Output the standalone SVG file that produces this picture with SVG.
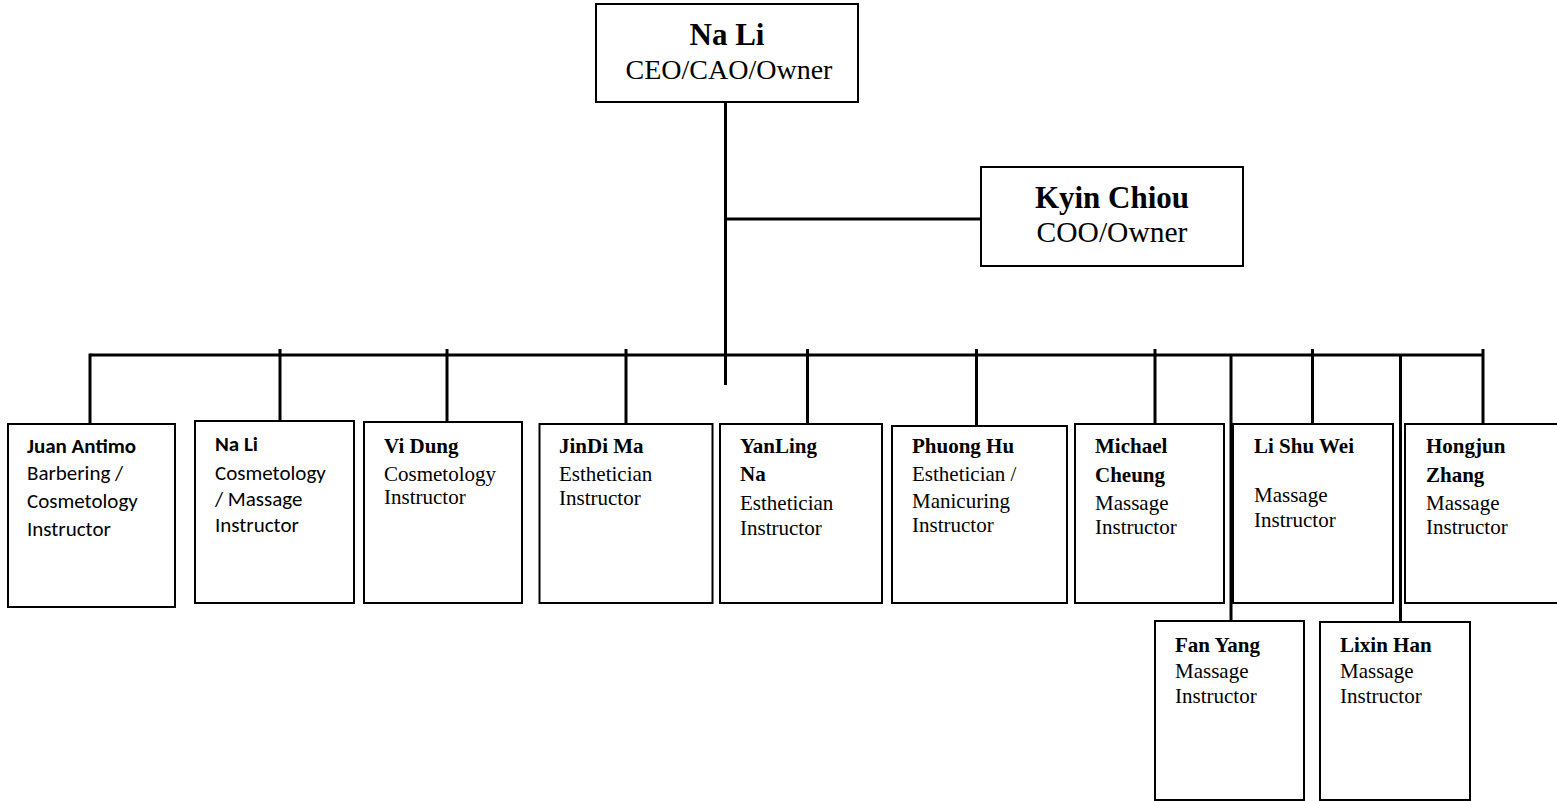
<svg xmlns="http://www.w3.org/2000/svg" width="1557" height="801" viewBox="0 0 1557 801">
<style>
.box{fill:#fff;stroke:#000;stroke-width:2}
.ln{stroke:#000;stroke-width:3;fill:none}
.t{font-family:"Liberation Serif","Times New Roman",serif;font-size:21px;fill:#000}
.tb{font-family:"Liberation Serif","Times New Roman",serif;font-size:21px;font-weight:bold;fill:#000}
.c{font-family:Carlito,Lato,"Liberation Sans",sans-serif;font-size:21px;fill:#000}
.cb{font-family:Carlito,Lato,"Liberation Sans",sans-serif;font-size:21px;font-weight:bold;fill:#000}
.big{font-family:"Liberation Serif","Times New Roman",serif;font-size:31px;font-weight:bold;fill:#000;text-anchor:middle}
.sub{font-family:"Liberation Serif","Times New Roman",serif;font-size:28px;fill:#000;text-anchor:middle}
</style>
<rect width="1557" height="801" fill="#fff"/>
<g id="connectors">
<line class="ln" x1="725.5" y1="102" x2="725.5" y2="385"/>
<line class="ln" x1="725.5" y1="219" x2="981" y2="219"/>
<line class="ln" x1="90" y1="355" x2="1483" y2="355"/>
<line class="ln" x1="90" y1="353.5" x2="90" y2="428"/>
<line class="ln" x1="280" y1="349" x2="280" y2="427"/>
<line class="ln" x1="447" y1="349" x2="447" y2="430"/>
<line class="ln" x1="626" y1="349" x2="626" y2="431"/>
<line class="ln" x1="807.5" y1="349" x2="807.5" y2="431"/>
<line class="ln" x1="976.5" y1="349" x2="976.5" y2="431"/>
<line class="ln" x1="1155" y1="349" x2="1155" y2="431"/>
<line class="ln" x1="1231" y1="355" x2="1231" y2="621"/>
<line class="ln" x1="1312.5" y1="349" x2="1312.5" y2="431"/>
<line class="ln" x1="1400.5" y1="355" x2="1400.5" y2="621"/>
<line class="ln" x1="1483" y1="349" x2="1483" y2="431"/>
</g>
<g id="ceo">
<rect class="box" x="596" y="4" width="262" height="98"/>
<text class="big" x="727" y="45">Na Li</text>
<text class="sub" x="729" y="79">CEO/CAO/Owner</text>
</g>
<g id="coo">
<rect class="box" x="981" y="167" width="262" height="99"/>
<text class="big" x="1112" y="208">Kyin Chiou</text>
<text class="sub" x="1112" y="242" style="font-size:29.5px">COO/Owner</text>
</g>
<g id="juan">
<rect class="box" x="8" y="424" width="167" height="183"/>
<text class="cb" x="27" y="453">Juan Antimo</text>
<text class="c" x="27" y="480">Barbering /</text>
<text class="c" x="27" y="508">Cosmetology</text>
<text class="c" x="27" y="536">Instructor</text>
</g>
<g id="nali2">
<rect class="box" x="195" y="421" width="159" height="182"/>
<text class="cb" x="215" y="451">Na Li</text>
<text class="c" x="215" y="480">Cosmetology</text>
<text class="c" x="215" y="506">/ Massage</text>
<text class="c" x="215" y="532">Instructor</text>
</g>
<g id="vidung">
<rect class="box" x="364" y="422" width="158" height="181"/>
<text class="tb" x="384" y="453">Vi Dung</text>
<text class="t" x="384" y="481">Cosmetology</text>
<text class="t" x="384" y="504">Instructor</text>
</g>
<g id="jindi">
<rect class="box" x="539.5" y="424" width="173" height="179"/>
<text class="tb" x="559" y="453">JinDi Ma</text>
<text class="t" x="559" y="481">Esthetician</text>
<text class="t" x="559" y="505">Instructor</text>
</g>
<g id="yanling">
<rect class="box" x="720" y="424" width="162" height="179"/>
<text class="tb" x="740" y="453">YanLing</text>
<text class="tb" x="740" y="481">Na</text>
<text class="t" x="740" y="510">Esthetician</text>
<text class="t" x="740" y="535">Instructor</text>
</g>
<g id="phuong">
<rect class="box" x="892" y="426" width="175" height="177"/>
<text class="tb" x="912" y="453">Phuong Hu</text>
<text class="t" x="912" y="481">Esthetician /</text>
<text class="t" x="912" y="508">Manicuring</text>
<text class="t" x="912" y="532">Instructor</text>
</g>
<g id="michael">
<rect class="box" x="1075" y="424" width="149" height="179"/>
<text class="tb" x="1095" y="453">Michael</text>
<text class="tb" x="1095" y="482">Cheung</text>
<text class="t" x="1095" y="510">Massage</text>
<text class="t" x="1095" y="534">Instructor</text>
</g>
<g id="lishuwei">
<rect class="box" x="1233" y="424" width="160" height="179"/>
<text class="tb" x="1254" y="453">Li Shu Wei</text>
<text class="t" x="1254" y="502">Massage</text>
<text class="t" x="1254" y="527">Instructor</text>
</g>
<g id="hongjun">
<rect class="box" x="1405" y="424" width="160" height="179"/>
<text class="tb" x="1426" y="453">Hongjun</text>
<text class="tb" x="1426" y="482">Zhang</text>
<text class="t" x="1426" y="510">Massage</text>
<text class="t" x="1426" y="534">Instructor</text>
</g>
<g id="fanyang">
<rect class="box" x="1155" y="621" width="149" height="179"/>
<text class="tb" x="1175" y="652">Fan Yang</text>
<text class="t" x="1175" y="678">Massage</text>
<text class="t" x="1175" y="703">Instructor</text>
</g>
<g id="lixin">
<rect class="box" x="1320" y="622" width="150" height="178"/>
<text class="tb" x="1340" y="652">Lixin Han</text>
<text class="t" x="1340" y="678">Massage</text>
<text class="t" x="1340" y="703">Instructor</text>
</g>
</svg>
